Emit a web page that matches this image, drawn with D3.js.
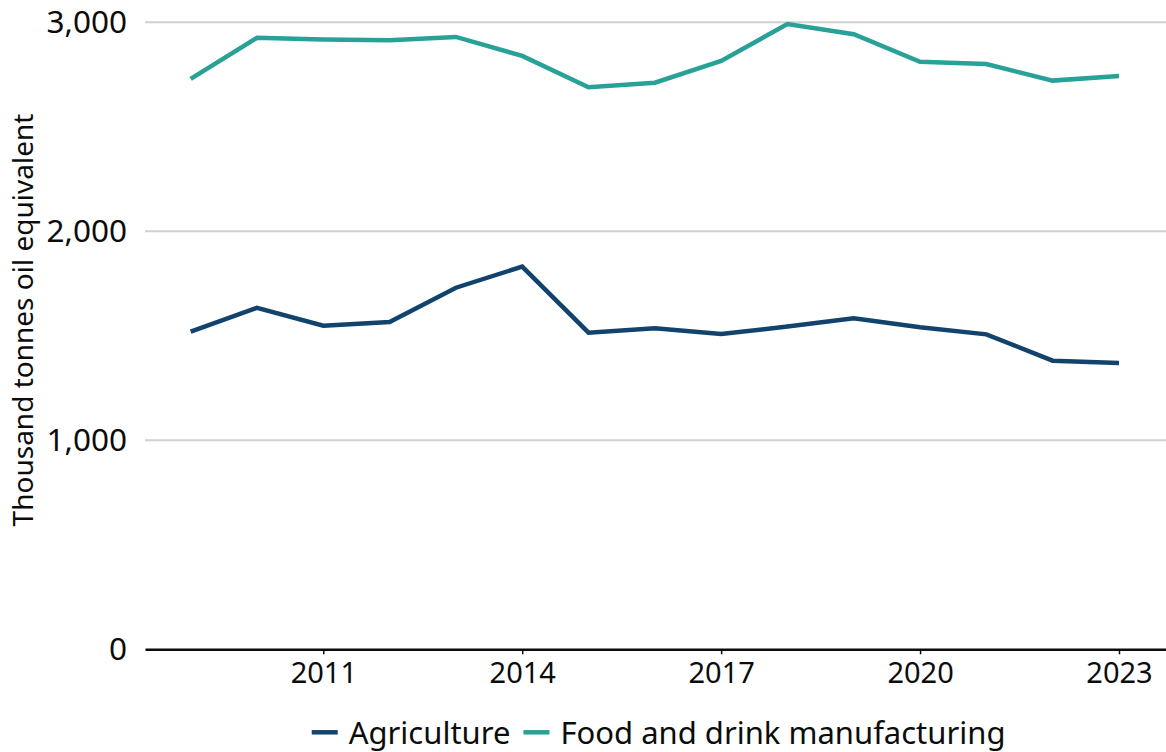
<!DOCTYPE html>
<html>
<head>
<meta charset="utf-8">
<script src="https://cdn.jsdelivr.net/npm/d3@7"></script>
<style>
  html, body { margin: 0; padding: 0; background: #ffffff; }
  svg { display: block; }
  text { font-family: "Noto Sans", "Open Sans", sans-serif; fill: #0b0c0c; }
</style>
</head>
<body>
<svg id="chart" width="1166" height="752"></svg>
<script>
const years = [2009, 2010, 2011, 2012, 2013, 2014, 2015, 2016, 2017, 2018, 2019, 2020, 2021, 2022, 2023];
const agriculture = [1520, 1634, 1548, 1566, 1730, 1831, 1515, 1536, 1509, 1544, 1584, 1541, 1507, 1381, 1370];
const foodDrink = [2729, 2926, 2918, 2914, 2930, 2839, 2689, 2711, 2815, 2992, 2943, 2811, 2800, 2721, 2743];
const yTicks = [0, 1000, 2000, 3000];
const xTicks = [2011, 2014, 2017, 2020, 2023];
const seriesNames = ["Agriculture", "Food and drink manufacturing"];
const seriesColors = ["#12436D", "#28A197"];
const yTitle = "Thousand tonnes oil equivalent";

const series = [
  { name: seriesNames[0], color: seriesColors[0], values: agriculture },
  { name: seriesNames[1], color: seriesColors[1], values: foodDrink }
];

const svg = d3.select("#chart");
const plotLeft = 145, plotRight = 1166, plotTop = 22.3, plotBottom = 649.3;

const x = d3.scaleLinear().domain([2008.311, 2023.709]).range([plotLeft, plotRight]);
const y = d3.scaleLinear().domain([0, 3000]).range([plotBottom, plotTop]);

// gridlines
svg.append("g")
  .selectAll("line")
  .data(yTicks.filter(d => d > 0))
  .join("line")
  .attr("x1", plotLeft).attr("x2", plotRight)
  .attr("y1", d => y(d)).attr("y2", d => y(d))
  .attr("stroke", "#d0d0d0").attr("stroke-width", 2);

// y axis labels
const yAxis = svg.append("g").attr("transform", `translate(${plotLeft},0)`)
  .call(d3.axisLeft(y).tickValues(yTicks).tickFormat(d3.format(",")).tickSize(0).tickPadding(18));
yAxis.select(".domain").remove();
yAxis.selectAll("text")
  .attr("font-size", 31.5)
  .attr("font-family", "'Noto Sans', sans-serif")
  .attr("fill", "#0b0c0c");

// x axis
const xAxis = svg.append("g").attr("transform", `translate(0,${plotBottom})`)
  .call(d3.axisBottom(x).tickValues(xTicks).tickFormat(d3.format("d")).tickSize(5).tickPadding(8).tickSizeOuter(0));
xAxis.select(".domain").attr("stroke", "#0b0c0c").attr("stroke-width", 2.5);
xAxis.selectAll(".tick line").attr("stroke", "#0b0c0c").attr("stroke-width", 1.5);
xAxis.selectAll("text")
  .attr("font-size", 29)
  .attr("font-family", "'Noto Sans', sans-serif")
  .attr("fill", "#0b0c0c");

// y title
svg.append("text")
  .attr("transform", `translate(33,320) rotate(-90)`)
  .attr("text-anchor", "middle")
  .attr("font-size", 28)
  .text(yTitle);

// lines
const line = d3.line().x((d, i) => x(years[i])).y(d => y(d));
svg.append("g")
  .selectAll("path")
  .data(series)
  .join("path")
  .attr("d", d => line(d.values))
  .attr("fill", "none")
  .attr("stroke", d => d.color)
  .attr("stroke-width", 4.5)
  .attr("stroke-linejoin", "miter");

// legend
const legend = svg.append("g");
let lx = 311.7;
const ly = 732.3;
series.forEach(s => {
  const g = legend.append("g");
  g.append("line")
    .attr("x1", lx).attr("x2", lx + 26)
    .attr("y1", ly).attr("y2", ly)
    .attr("stroke", s.color).attr("stroke-width", 4.5);
  const t = g.append("text")
    .attr("x", lx + 37).attr("y", 744)
    .attr("font-size", 31)
    .text(s.name);
  lx = lx + 37 + t.node().getComputedTextLength() + 13;
});
</script>
</body>
</html>
